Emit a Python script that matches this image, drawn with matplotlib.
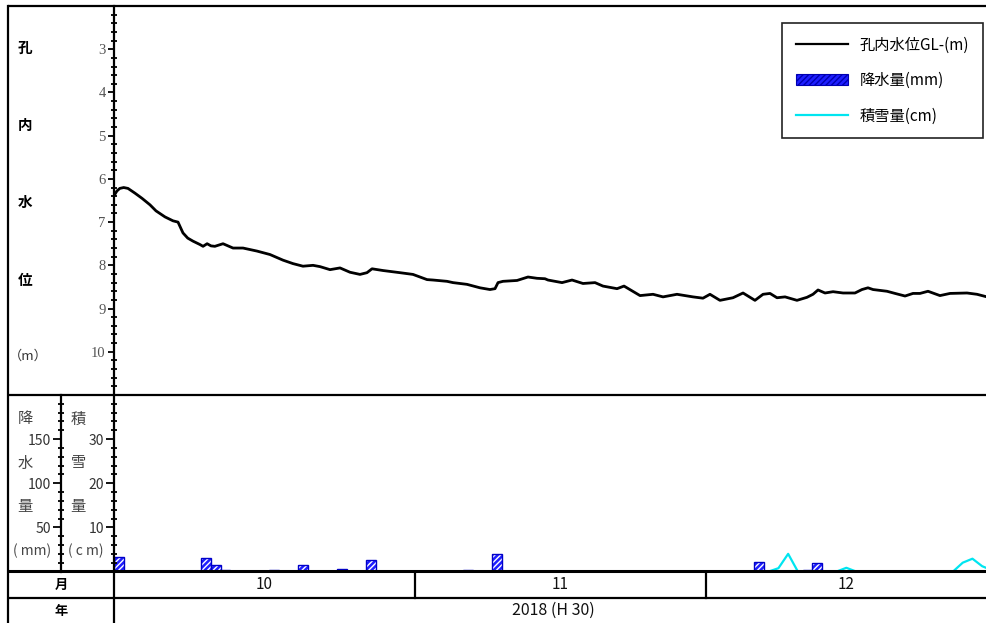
import matplotlib
matplotlib.use("Agg")
import matplotlib.pyplot as plt
from matplotlib.lines import Line2D
from matplotlib.patches import Patch
from matplotlib.ticker import MultipleLocator, FixedLocator

plt.rcParams["font.family"] = ["Noto Sans CJK JP", "DejaVu Sans"]
plt.rcParams["hatch.linewidth"] = 1.0
plt.rcParams["hatch.color"] = "white"

# ---- data (days counted from 2018-10-01 00:00) ----
level_day = [0.03, 0.3, 0.6, 1.0, 1.44, 2.16, 2.89, 3.71, 4.33, 5.26, 6.08, 6.6, 7.11, 7.6,
             8.14, 8.87, 9.18, 9.6, 10.0, 10.4, 11.24, 12.27, 13.3, 14.74, 16.08, 17.42,
             18.45, 19.48, 20.52, 21.24, 22.27, 23.3, 24.33, 25.36, 26.08, 26.6, 27.73,
             29.48, 30.82, 32.27, 32.89, 34.33, 34.95, 36.39, 37.73, 38.76, 39.28, 39.59,
             40.1, 41.55, 42.68, 43.61, 44.43, 44.74, 46.19, 47.22, 48.35, 49.59, 50.41,
             51.86, 52.58, 54.23, 55.57, 56.6, 58.04, 59.69, 60.72, 61.44, 62.47, 63.81,
             64.85, 66.08, 66.91, 67.63, 68.35, 69.18, 70.41, 71.44, 72.06, 72.58, 73.3,
             74.13, 75.16, 76.39, 77.11, 77.73, 78.25, 79.69, 80.52, 81.55, 82.37, 83.09,
             83.92, 85.15, 86.19, 87.94, 88.97, 90.0]
level_m = [6.38, 6.28, 6.22, 6.20, 6.22, 6.33, 6.45, 6.60, 6.74, 6.88, 6.97, 7.00, 7.25, 7.37,
           7.44, 7.52, 7.56, 7.50, 7.55, 7.56, 7.50, 7.60, 7.60, 7.67, 7.75, 7.88,
           7.96, 8.02, 8.00, 8.03, 8.10, 8.06, 8.16, 8.21, 8.17, 8.08, 8.12,
           8.17, 8.21, 8.33, 8.34, 8.37, 8.40, 8.44, 8.52, 8.56, 8.54, 8.40,
           8.37, 8.35, 8.27, 8.30, 8.31, 8.34, 8.40, 8.34, 8.42, 8.40, 8.48,
           8.54, 8.48, 8.70, 8.67, 8.73, 8.67, 8.73, 8.76, 8.67, 8.81, 8.75,
           8.64, 8.81, 8.67, 8.65, 8.75, 8.73, 8.81, 8.74, 8.67, 8.57, 8.64,
           8.61, 8.64, 8.64, 8.56, 8.52, 8.56, 8.60, 8.65, 8.71, 8.65, 8.65,
           8.60, 8.70, 8.65, 8.64, 8.67, 8.73]

rain_day = [0, 9, 10, 11, 16, 19, 22, 23, 26, 36, 38, 39, 49, 64, 66, 69, 71, 72, 77, 79]
rain_mm = [16.7, 15.0, 6.8, 1.5, 2.0, 7.0, 1.0, 3.0, 12.5, 2.0, 0.5, 19.3, 1.0, 1.0,
           11.0, 1.0, 2.0, 9.9, 0.5, 1.0]

snow_day = [0, 67, 68, 69, 70, 74, 75, 76, 86, 87, 88, 89, 90]
snow_cm = [0, 0, 0.75, 4.0, 0, 0, 0.84, 0, 0, 2.0, 2.9, 1.2, 0.3]

month_labels = ["10", "11", "12"]
month_start = [0, 31, 61, 90]
year_label = "2018 (H 30)"

# ---- layout in pixels ----
W, H = 987, 623
fig = plt.figure(figsize=(W / 100, H / 100), dpi=100)


def box(x0, y0, x1, y1):
    return [x0 / W, 1 - y1 / H, (x1 - x0) / W, (y1 - y0) / H]


def strip(ax):
    for s in ax.spines.values():
        s.set_visible(False)
    ax.patch.set_visible(False)


XL, XR = 114, 987
Y_TOP, Y_MID, Y_BASE, Y_MON, Y_BOT = 6, 395, 571.5, 598, 623
FRAME = "black"
LW = 1.6

# ---- water level panel ----
ax = fig.add_axes(box(XL, Y_TOP, XR, Y_MID))
strip(ax)
ax.plot(level_day, level_m, color="black", lw=2.0, solid_joinstyle="round")
ax.set_xlim(0, month_start[-1])
ax.set_ylim(11, 2)
ax.set_xticks([])
ax.yaxis.set_major_locator(FixedLocator(range(3, 11)))
ax.yaxis.set_minor_locator(MultipleLocator(0.2))
ax.tick_params(axis="y", which="major", direction="out", length=4.5, width=1.3,
               pad=1.5, labelsize=10.5, labelcolor="#555555")
ax.tick_params(axis="y", which="minor", direction="inout", length=4.5, width=1.3)
for t in ax.get_yticklabels():
    t.set_fontfamily(["Liberation Serif"])

leg = ax.legend(
    handles=[
        Line2D([], [], color="black", lw=1.6),
        Patch(facecolor="#1f1fff", edgecolor="#0000b0", hatch="//////", lw=0.8),
        Line2D([], [], color="#00e5f0", lw=1.6),
    ],
    labels=["孔内水位GL-(m)", "降水量(mm)", "積雪量(cm)"],
    loc="upper right", bbox_to_anchor=(983 / W, 1 - 23 / H), bbox_transform=fig.transFigure,
    borderaxespad=0, fontsize=11, handlelength=3.4, handletextpad=0.8, labelspacing=1.2,
    borderpad=0.9, fancybox=False, framealpha=1, edgecolor="#222222",
)
leg.get_frame().set_linewidth(1.2)

# ---- precipitation / snow panel ----
axp = fig.add_axes(box(XL, Y_MID, XR, Y_BASE))
strip(axp)
axp.bar(rain_day, rain_mm, width=1.0, align="edge", color="#1f1fff", edgecolor="white",
        hatch="//////", lw=0, zorder=2)
axp.bar(rain_day, rain_mm, width=1.0, align="edge", fill=False, edgecolor="#0000c8",
        lw=1.0, zorder=3)
axp.set_xlim(0, month_start[-1])
axp.set_ylim(0, 200)
axp.set_xticks([])
axp.set_yticks([])

axs = axp.twinx()
strip(axs)
axs.plot([d + 0.5 for d in snow_day], snow_cm, color="#00e5f0", lw=1.6, zorder=4)
axs.set_ylim(0, 40)
axs.yaxis.set_ticks_position("left")
axs.yaxis.set_label_position("left")
axs.yaxis.set_major_locator(FixedLocator([10, 20, 30]))
axs.yaxis.set_minor_locator(MultipleLocator(2))
axs.tick_params(axis="y", which="major", direction="out", length=5.5, width=1.3,
                pad=1.5, labelsize=10, labelcolor="#333333", left=True, right=False,
                labelleft=True, labelright=False)
axs.tick_params(axis="y", which="minor", direction="inout", length=4.5, width=1.3,
                left=True, right=False)

# precipitation scale drawn on its own axis line further left
axr = fig.add_axes(box(61, Y_MID, XL, Y_BASE))
strip(axr)
axr.set_ylim(0, 200)
axr.set_xticks([])
axr.yaxis.set_major_locator(FixedLocator([50, 100, 150]))
axr.yaxis.set_minor_locator(MultipleLocator(10))
axr.tick_params(axis="y", which="major", direction="out", length=5.5, width=1.3,
                pad=1.5, labelsize=10, labelcolor="#333333")
axr.tick_params(axis="y", which="minor", direction="inout", length=4.5, width=1.3)

# ---- month and year rows ----
axm = fig.add_axes(box(XL, Y_BASE, XR, Y_MON))
axm.set_axis_off()
axm.set_xlim(0, month_start[-1])
axm.set_ylim(0, 1)
for i, lab in enumerate(month_labels):
    axm.text((month_start[i] + month_start[i + 1]) / 2, 0.5, lab, ha="center", va="center",
             fontsize=11, color="#111111")
for d in month_start[1:-1]:
    axm.plot([d, d], [0, 1], color=FRAME, lw=LW, clip_on=False)

axy = fig.add_axes(box(XL, Y_MON, XR, Y_BOT))
axy.set_axis_off()
axy.set_xlim(0, month_start[-1])
axy.set_ylim(0, 1)
axy.text(month_start[-1] / 2 + 0.3, 0.5, year_label, ha="center", va="center",
         fontsize=11.5, color="#111111")

# ---- frame lines and side captions ----
ov = fig.add_axes([0, 0, 1, 1])
ov.set_zorder(20)
ov.set_axis_off()
ov.set_xlim(0, W)
ov.set_ylim(H, 0)
for y in (Y_TOP, Y_MID, Y_MON):
    ov.plot([8, W], [y, y], color=FRAME, lw=LW, solid_capstyle="butt")
# baseline of the rain/snow panel, unsnapped so it sits exactly on the zero level
ov.plot([8, W], [Y_BASE, Y_BASE], color=FRAME, lw=2.2, solid_capstyle="butt", snap=False)
ov.plot([8, 8], [Y_TOP, H], color=FRAME, lw=LW)
ov.plot([XL, XL], [Y_TOP, H], color=FRAME, lw=LW)
ov.plot([61, 61], [Y_MID, Y_BASE], color=FRAME, lw=LW)

for ch, y in zip("孔内水位", (48, 125, 202, 280)):
    ov.text(25, y, ch, ha="center", va="center", fontsize=10.5, color="black",
            fontweight="bold")
ov.text(28, 356, "（m）", ha="center", va="center", fontsize=9.5, color="#333333")

for ch, y in zip("降水量", (419, 463, 507)):
    ov.text(25, y, ch, ha="center", va="center", fontsize=11, color="#444444")
for ch, y in zip("積雪量", (419, 463, 507)):
    ov.text(78, y, ch, ha="center", va="center", fontsize=11, color="#444444")
ov.text(32, 551, "( mm)", ha="center", va="center", fontsize=10, color="#444444")
ov.text(86, 551, "( c m)", ha="center", va="center", fontsize=10, color="#444444")

ov.text(61, 585, "月", ha="center", va="center", fontsize=9.5, color="black",
        fontweight="bold")
ov.text(61, 611, "年", ha="center", va="center", fontsize=9.5, color="black",
        fontweight="bold")

fig.savefig("out.png", dpi=100)
